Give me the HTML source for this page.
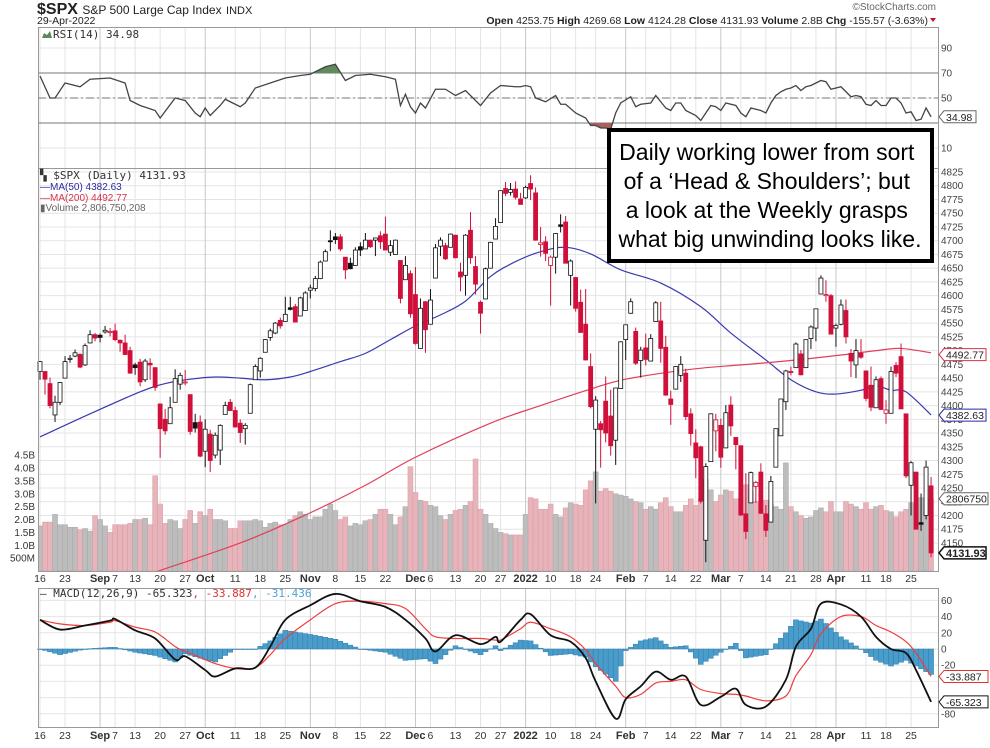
<!DOCTYPE html>
<html><head><meta charset="utf-8"><style>
html,body{margin:0;padding:0;background:#fff;}
svg{display:block;font-family:"Liberation Sans",Arial,sans-serif;}
</style></head><body>
<svg id="c" width="990" height="748" viewBox="0 0 990 748" xmlns="http://www.w3.org/2000/svg">
<defs>
<clipPath id="mainClip"><rect x="38" y="168" width="900" height="403"/></clipPath>
<clipPath id="rsiHi"><rect x="38" y="20" width="900" height="53"/></clipPath>
<clipPath id="rsiLo"><rect x="38" y="123" width="900" height="45"/></clipPath>
</defs>
<rect x="0" y="0" width="990" height="748" fill="#fff"/>
<g>
<text x="37" y="14" font-size="16" font-weight="bold" fill="#222">$SPX <tspan font-size="12" font-weight="normal">S&amp;P 500 Large Cap Index</tspan> <tspan font-size="11" font-weight="normal">INDX</tspan></text>
<text x="37" y="24" font-size="10.5" fill="#222">29-Apr-2022</text>
<text x="936" y="10" font-size="10" fill="#666" text-anchor="end">©StockCharts.com</text>
<text x="928" y="24" font-size="10.5" fill="#222" text-anchor="end"><tspan font-weight="bold">Open</tspan> 4253.75 <tspan font-weight="bold">High</tspan> 4269.68 <tspan font-weight="bold">Low</tspan> 4124.28 <tspan font-weight="bold">Close</tspan> 4131.93 <tspan font-weight="bold">Volume</tspan> 2.8B <tspan font-weight="bold">Chg</tspan> -155.57 (-3.63%)</text>
<path d="M930 18 L936 18 L933 22 Z" fill="#c8102e"/>
</g>
<g id="grid"></g>
<g id="vol" clip-path="url(#mainClip)"></g>
<g id="ma" clip-path="url(#mainClip)"></g>
<g id="candles"></g>
<g id="rsi"></g>
<g id="macd"></g>
<g id="axes"></g>
<g id="frames" fill="none" stroke="#999" stroke-width="1">
<rect x="38.5" y="27.5" width="900" height="141"/>
<rect x="38.5" y="168.5" width="900" height="403"/>
<rect x="38.5" y="588.5" width="900" height="139"/>
</g>
<g>
<path d="M42 38 L44 33 L47 35 L50 31 L52 38 Z" fill="#5a8a5a"/>
<text x="53" y="38" font-size="11" fill="#333" font-family="'DejaVu Sans Mono','Liberation Mono',monospace">RSI(14) 34.98</text>
<text x="40" y="179" font-size="11" fill="#333" font-family="'DejaVu Sans Mono','Liberation Mono',monospace">▚ $SPX (Daily) 4131.93</text>
<text x="40" y="190" font-size="10" fill="#2a2aa8">—MA(50) 4382.63</text>
<text x="40" y="201" font-size="10" fill="#d9304a">—MA(200) 4492.77</text>
<text x="40" y="211" font-size="10" fill="#666">▮Volume 2,806,750,208</text>
<text x="40" y="597" font-size="11" fill="#333" font-family="'DejaVu Sans Mono','Liberation Mono',monospace">— MACD(12,26,9) -65.323<tspan fill="#e53030">, -33.887</tspan><tspan fill="#4aa3d8">, -31.436</tspan></text>
</g>
<g>
<rect x="609" y="130" width="323" height="131" fill="#fff" stroke="#000" stroke-width="4"/>
<text font-size="23" fill="#000" text-anchor="middle">
<tspan x="770" y="160">Daily working lower from sort</tspan>
<tspan x="770" y="189">of a ‘Head &amp; Shoulders’; but</tspan>
<tspan x="770" y="218">a look at the Weekly grasps</tspan>
<tspan x="770" y="247">what big unwinding looks like.</tspan>
</text>
</g>
<g id="tags"></g>
</svg>
<script>
const closes=[4480,4448,4400,4406,4442,4480,4486,4496,4470,4509,4529,4523,4524,4537,4535,4520,4514,4493,4459,4469,4443,4481,4474,4433,4358,4354,4396,4449,4455,4443,4353,4359,4308,4357,4300,4346,4364,4400,4391,4361,4351,4364,4438,4471,4486,4520,4536,4550,4545,4566,4575,4552,4596,4605,4614,4631,4661,4680,4698,4702,4685,4647,4649,4683,4683,4701,4689,4705,4698,4683,4691,4701,4595,4655,4567,4513,4577,4538,4592,4687,4701,4667,4712,4669,4634,4710,4669,4621,4568,4649,4697,4726,4791,4786,4793,4779,4766,4797,4794,4701,4696,4677,4670,4713,4726,4659,4663,4577,4533,4483,4398,4410,4356,4350,4327,4432,4516,4547,4589,4477,4501,4484,4522,4587,4504,4419,4402,4471,4475,4380,4349,4305,4226,4289,4385,4374,4306,4387,4363,4329,4201,4171,4278,4260,4204,4173,4262,4358,4412,4463,4461,4512,4456,4520,4543,4576,4632,4602,4530,4546,4583,4525,4481,4500,4488,4413,4397,4447,4393,4392,4462,4459,4394,4272,4296,4175,4184,4288,4132];
const opens=[4462,4462,4440,4383,4406,4450,4484,4490,4493,4474,4514,4529,4528,4534,4533,4536,4519,4514,4500,4474,4479,4447,4477,4469,4403,4375,4367,4406,4439,4442,4420,4369,4370,4317,4348,4310,4319,4384,4406,4391,4368,4358,4386,4447,4463,4497,4524,4532,4555,4553,4578,4580,4563,4573,4610,4613,4631,4663,4700,4707,4707,4670,4659,4655,4689,4685,4701,4701,4709,4712,4679,4675,4664,4629,4640,4602,4504,4589,4548,4632,4690,4691,4688,4710,4643,4637,4719,4653,4588,4594,4650,4703,4733,4795,4788,4794,4776,4778,4804,4787,4693,4698,4655,4670,4729,4734,4637,4633,4588,4548,4471,4357,4367,4408,4381,4337,4431,4520,4568,4535,4482,4505,4481,4553,4554,4506,4412,4430,4455,4459,4385,4332,4325,4155,4298,4354,4364,4323,4401,4342,4327,4203,4223,4253,4279,4203,4188,4288,4345,4407,4462,4469,4494,4469,4522,4541,4603,4600,4600,4541,4548,4573,4495,4474,4495,4463,4437,4396,4449,4386,4386,4473,4489,4385,4255,4279,4187,4200,4254];
const highs=[4481,4463,4451,4418,4443,4490,4492,4502,4495,4513,4537,4532,4531,4545,4541,4549,4520,4529,4507,4478,4485,4485,4486,4470,4403,4394,4416,4466,4460,4465,4420,4385,4382,4375,4356,4351,4366,4407,4412,4398,4375,4368,4440,4475,4488,4521,4540,4552,4560,4598,4598,4585,4598,4608,4620,4636,4664,4684,4719,4714,4712,4670,4669,4688,4697,4714,4702,4705,4717,4744,4701,4702,4664,4672,4646,4652,4595,4590,4612,4694,4706,4696,4713,4711,4660,4712,4752,4672,4591,4651,4698,4741,4791,4807,4805,4808,4787,4800,4819,4797,4725,4708,4673,4714,4748,4745,4666,4634,4611,4612,4495,4417,4372,4453,4429,4432,4517,4547,4595,4542,4507,4531,4530,4590,4589,4527,4427,4472,4490,4467,4395,4357,4327,4295,4386,4385,4376,4401,4417,4342,4327,4277,4280,4263,4295,4219,4272,4358,4412,4465,4471,4515,4501,4520,4546,4576,4637,4628,4603,4549,4593,4593,4503,4521,4521,4464,4471,4453,4453,4410,4471,4479,4513,4385,4299,4279,4240,4300,4270];
const lows=[4447,4420,4395,4370,4401,4450,4478,4488,4468,4472,4513,4517,4515,4531,4526,4517,4498,4492,4458,4456,4435,4443,4447,4427,4305,4347,4367,4406,4429,4437,4347,4351,4306,4288,4279,4304,4292,4384,4390,4360,4332,4329,4386,4447,4451,4497,4518,4530,4540,4553,4573,4552,4563,4573,4595,4608,4630,4663,4681,4694,4681,4630,4648,4655,4672,4685,4687,4672,4685,4683,4672,4675,4586,4629,4560,4511,4504,4496,4548,4632,4672,4665,4688,4668,4608,4600,4658,4602,4531,4594,4650,4703,4733,4781,4782,4775,4766,4776,4774,4700,4671,4663,4582,4640,4715,4659,4582,4571,4533,4482,4395,4222,4287,4333,4309,4292,4432,4483,4567,4474,4451,4473,4481,4553,4478,4418,4365,4429,4443,4374,4327,4268,4222,4115,4298,4317,4287,4323,4345,4284,4199,4157,4223,4223,4203,4161,4188,4288,4345,4392,4455,4469,4455,4469,4503,4517,4603,4589,4530,4507,4546,4513,4452,4450,4485,4408,4390,4396,4392,4367,4386,4452,4394,4268,4200,4175,4172,4193,4124];
const volumes=[1.75,1.9,1.9,2.2,1.8,1.8,1.7,1.7,1.6,1.65,1.55,2.15,2.0,1.75,1.5,1.8,1.8,1.8,1.85,2.0,2.0,2.05,1.8,3.7,2.6,1.85,2.0,1.95,1.65,2.0,2.35,1.85,2.3,2.15,2.4,2.0,2.0,1.95,1.65,1.65,1.95,1.95,1.95,2.0,1.95,1.7,1.85,1.9,1.8,1.8,2.0,2.15,2.3,2.2,2.0,2.1,2.1,2.4,2.6,2.35,2.0,2.1,1.75,1.85,1.8,1.95,2.0,2.2,2.4,2.4,2.2,1.8,2.1,2.5,4.05,3.05,2.75,2.7,2.55,2.5,2.15,2.0,2.2,2.35,2.4,2.55,2.7,4.35,2.4,2.2,1.85,1.65,1.5,1.45,1.4,1.4,1.4,2.2,2.85,2.8,2.4,2.4,2.6,2.2,2.1,2.45,2.65,2.6,2.55,3.15,3.5,3.85,3.1,3.2,3.1,3.0,2.95,2.9,2.8,2.7,2.65,2.4,2.5,2.4,2.65,2.85,2.5,2.3,2.3,2.55,2.8,2.55,2.8,3.55,3.15,2.7,2.95,3.15,3.1,2.8,2.85,3.35,3.1,2.7,2.3,2.75,2.6,2.5,2.4,4.2,2.5,2.3,2.15,2.05,2.1,2.35,2.45,2.3,2.7,2.3,2.3,2.7,2.6,2.5,2.4,2.65,2.4,2.5,2.55,2.35,2.3,2.1,2.3,2.4,2.65,2.55,2.85,2.55,2.8];
const ma50Idx=[0,10,20,25,30,35,40,45,50,54,60,65,70,75,80,85,90,95,100,105,110,116,124,132,138,145,150,155,159,164,167,170,173,178];
const ma50Val=[4343,4385,4425,4440,4448,4452,4450,4447,4452,4462,4480,4495,4520,4545,4565,4590,4635,4662,4680,4688,4676,4647,4623,4580,4532,4483,4447,4425,4421,4428,4436,4428,4425,4383];
const ma200Idx=[20,40,54,65,75,90,100,110,117,130,140,150,160,167,172,178];
const ma200Val=[4088,4150,4205,4255,4306,4368,4400,4430,4448,4466,4474,4482,4492,4500,4504,4496];
const rsiIdx=[0,2,3,5,8,10,14,17,18,20,23,24,27,29,31,32,33,34,36,37,40,41,43,46,49,52,54,57,59,61,63,66,69,71,72,73,74,75,76,77,79,81,83,85,88,90,92,95,96,97,98,99,101,103,104,105,107,109,110,111,112,113,114,115,116,118,119,120,122,123,124,125,126,127,128,129,131,132,133,134,135,136,137,139,140,141,142,144,145,146,147,148,149,150,151,152,153,154,155,156,157,158,159,160,161,162,163,164,165,166,167,168,169,170,171,172,173,174,175,176,177,178];
const rsiVal=[67.6,50,50,62,59,65,66,62,48,44,40,34,50,48,38,35,42,36,44,49,43,46,58,62,66,68,69,75,77,64,68,69,67,65,44,53,43,38,46,42,57,57,52,56,44,54,60,59,59,60,59,50,47,52,45,45,38,34,28,28,26,26,25,38,46,51,43,45,46,52,47,42,40,46,46,40,36,32,38,44,43,40,46,44,38,35,42,40,38,46,52,55,57,58,60,56,59,60,62,64,63,57,58,59,55,51,52,51,45,44,48,44,44,50,50,46,38,39,32,33,42,34.98];
const macdIdx=[0,4,9,14,15,19,23,27,29,33,35,39,43,46,49,54,59,64,69,73,77,79,83,88,91,92,96,98,102,106,109,111,115,117,120,123,126,129,132,136,139,141,145,149,151,154,156,160,164,167,170,173,175,178];
const macdVal=[36,24,29,35,37,23,13,-13,-9,-26,-34,-24,-23,3,36,54,68,59,52,36,13,-3,17,6,15,9,36,43,17,9,-11,-40,-86,-62,-46,-28,-38,-34,-69,-59,-49,-69,-71,-38,3,25,56,55,40,15,0,-5,-26,-65.323];
const signalVal=[36,31,29,33,35,27,21,3,-3,-13,-18,-24,-23,-7,13,36,56,59,56,50,25,15,13,13,11,11,25,33,25,15,-1,-18,-46,-60,-56,-42,-40,-38,-50,-55,-56,-58,-64,-58,-33,-7,19,40,40,29,21,9,-5,-33.887];
const bottomLabels=["16","23","Sep","7","13","20","27","Oct","11","18","25","Nov","8","15","22","Dec","6","13","20","27","2022","10","18","24","Feb","7","14","22","Mar","7","14","21","28","Apr","11","18","25"];
const bottomLabelIdx=[0,5,12,15,19,24,29,33,39,44,49,54,59,64,69,75,78,83,88,92,97,102,107,111,117,121,126,131,136,140,145,150,155,159,165,169,174];
const priceTicks=[4825,4800,4775,4750,4725,4700,4675,4650,4625,4600,4575,4550,4525,4500,4475,4450,4425,4400,4375,4350,4325,4300,4275,4250,4225,4200,4175,4150];
const volTicks=[4.5,4.0,3.5,3.0,2.5,2.0,1.5,1.0,0.5];
const volTickLabels=["4.5B","4.0B","3.5B","3.0B","2.5B","2.0B","1.5B","1.0B","500M"];
const rsiTicks=[90,70,50,10];
const macdTicks=[60,40,20,0,-20,-80];
const macdGrid=[60,40,20,0,-20,-40,-60,-80];

const NS="http://www.w3.org/2000/svg";
function xOf(i){return 40+i*5.006;}
function yP(p){return 172+(4825-p)*0.5496;}
function yV(v){return 571-v*25.75;}
function yR(r){return 73+(70-r)*1.25;}
function yM(m){return 649-m*0.81;}
function mk(tag,attrs,parent){const e=document.createElementNS(NS,tag);for(const k in attrs)e.setAttribute(k,attrs[k]);parent.appendChild(e);return e;}
function interp(idx,val,i){for(let k=0;k<idx.length-1;k++){if(i>=idx[k]&&i<=idx[k+1]){const t=(i-idx[k])/(idx[k+1]-idx[k]);return val[k]+t*(val[k+1]-val[k]);}}return val[val.length-1];}
function smoothPath(pts){let d='M'+pts[0][0]+' '+pts[0][1];for(let k=0;k<pts.length-1;k++){const p0=pts[Math.max(0,k-1)],p1=pts[k],p2=pts[k+1],p3=pts[Math.min(pts.length-1,k+2)];
const c1x=p1[0]+(p2[0]-p0[0])/6,c1y=p1[1]+(p2[1]-p0[1])/6,c2x=p2[0]-(p3[0]-p1[0])/6,c2y=p2[1]-(p3[1]-p1[1])/6;
d+=` C${c1x} ${c1y} ${c2x} ${c2y} ${p2[0]} ${p2[1]}`;}return d;}

const G=document.getElementById('grid'),A=document.getElementById('axes');
priceTicks.forEach(p=>{const l=mk('line',{x1:38,x2:938,y1:yP(p),y2:yP(p),stroke:'#e4e4e4'},G);


const t=mk('text',{x:941,y:yP(p)+3.5,'font-size':10,fill:'#444'},A);t.textContent=p;

});
[90,70,50,30,10].forEach(r=>{const l=mk('line',{x1:38,x2:938,y1:yR(r),y2:yR(r),stroke:'#e4e4e4'},G);

});
rsiTicks.forEach(r=>{const t=mk('text',{x:941,y:yR(r)+3.5,'font-size':10,fill:'#444'},A);t.textContent=r;

});
macdGrid.forEach(m=>{const l=mk('line',{x1:38,x2:938,y1:yM(m),y2:yM(m),stroke:'#e4e4e4'},G);

});
macdTicks.forEach(m=>{const t=mk('text',{x:941,y:yM(m)+3.5,'font-size':10,fill:'#444'},A);t.textContent=m;

});
volTicks.forEach((v,k)=>{const t=mk('text',{x:35,y:yV(v)+3.5,'font-size':10,fill:'#333','text-anchor':'end'},A);t.textContent=volTickLabels[k];

});
bottomLabels.forEach((lab,k)=>{const x=xOf(bottomLabelIdx[k]);const month=/^[A-Z]|2022/.test(lab);
[[28,168],[168,571],[588,727]].forEach(r=>{const l=mk('line',{x1:x,x2:x,y1:r[0],y2:r[1],stroke:month?'#c8c8c8':'#e4e4e4'},G);

});
[582,739].forEach(y=>{const t=mk('text',{x:x,y:y,'font-size':month?11:10.5,'font-weight':month?'bold':'normal',fill:'#333','text-anchor':'middle'},A);t.textContent=lab;

});});

const V=document.getElementById('vol');
volumes.forEach((v,i)=>{const down=i>0&&closes[i]<closes[i-1];const r=mk('rect',{x:xOf(i)-2.5,y:yV(v),width:5,height:571-yV(v),fill:down?'#e8b4bb':'#bdbdbd',stroke:down?'#d99aa3':'#a8a8a8','stroke-width':0.5},V);

});

const M=document.getElementById('ma');
const l50=mk('path',{d:smoothPath(ma50Idx.map((i,k)=>[xOf(i),yP(ma50Val[k])])),fill:'none',stroke:'#3a3ab0','stroke-width':1.2},M);


const l200=mk('path',{d:smoothPath(ma200Idx.map((i,k)=>[xOf(i),yP(ma200Val[k])])),fill:'none',stroke:'#e0405a','stroke-width':1.2},M);



const Cg=document.getElementById('candles');
closes.forEach((c,i)=>{const o=opens[i];const down=i>0&&c<closes[i-1];const col=down?'#d0103a':'#111';const x=xOf(i);
const w=mk('line',{x1:x,x2:x,y1:yP(highs[i]),y2:yP(lows[i]),stroke:col,'stroke-width':1},Cg);


const top=yP(Math.max(o,c)),bot=yP(Math.min(o,c));
const b=mk('rect',{x:x-2,y:top,width:4,height:Math.max(1,bot-top),fill:c<o?col:'#fff',stroke:col,'stroke-width':0.8},Cg);

});

const R=document.getElementById('rsi');
const refs=[[70,'solid'],[30,'solid'],[50,'dash']];
refs.forEach(rf=>{const l=mk('line',{x1:38,x2:938,y1:yR(rf[0]),y2:yR(rf[0]),stroke:'#777','stroke-width':1,'stroke-dasharray':rf[1]==='dash'?'8,3,2,3':'none'},R);

});
const rpts=rsiIdx.map((i,k)=>xOf(i)+','+yR(rsiVal[k]));
const hi=mk('polygon',{points:xOf(0)+','+yR(70)+' '+rpts.join(' ')+' '+xOf(178)+','+yR(70),fill:'#5e8c5e','clip-path':'url(#rsiHi)'},R);


const lo=mk('polygon',{points:xOf(0)+','+yR(30)+' '+rpts.join(' ')+' '+xOf(178)+','+yR(30),fill:'#a86060','clip-path':'url(#rsiLo)'},R);


const rl=mk('polyline',{points:rpts.join(' '),fill:'none',stroke:'#444','stroke-width':1.3},R);



const MG=document.getElementById('macd');
for(let i=0;i<closes.length;i++){const h=interp(macdIdx,macdVal,i)-interp(macdIdx,signalVal,i);const y0=yM(0),y1=yM(h);
const b=mk('rect',{x:xOf(i)-2.5,y:Math.min(y0,y1),width:5,height:Math.max(0.5,Math.abs(y1-y0)),fill:'#4a9ccb',stroke:'#2f7fae','stroke-width':0.5},MG);

}
const sl=mk('path',{d:smoothPath(macdIdx.map((i,k)=>[xOf(i),yM(signalVal[k])])),fill:'none',stroke:'#f03c3c','stroke-width':1.2},MG);


const ml=mk('path',{d:smoothPath(macdIdx.map((i,k)=>[xOf(i),yM(macdVal[k])])),fill:'none',stroke:'#111','stroke-width':1.8},MG);



const T=document.getElementById('tags');
function tag(y,txt,col,bold,w){const g=mk('g',{},T);
mk('path',{d:`M939 ${y} L944 ${y-6} L${944+w} ${y-6} L${944+w} ${y+6} L944 ${y+6} Z`,fill:'#fff',stroke:col,'stroke-width':bold?1.5:1},g);
const t=mk('text',{x:946,y:y+4,'font-size':bold?11:10.5,'font-weight':bold?'bold':'normal',fill:'#222'},g);t.textContent=txt;return g;}
const t1=tag(yP(4492.77),'4492.77','#d9304a',false,42);


const t2=tag(yP(4382.63),'4382.63','#2a2aa8',false,42);


const t3=tag(yV(2.80675),'2806750','#666',false,44);


const t4=tag(yP(4131.93),'4131.93','#111',true,42);


const t5=tag(yR(34.98),'34.98','#666',false,32);


const t6=tag(yM(-33.887),'-33.887','#e53030',false,44);


const t7=tag(yM(-65.323),'-65.323','#111',false,44);


</script>
</body></html>
